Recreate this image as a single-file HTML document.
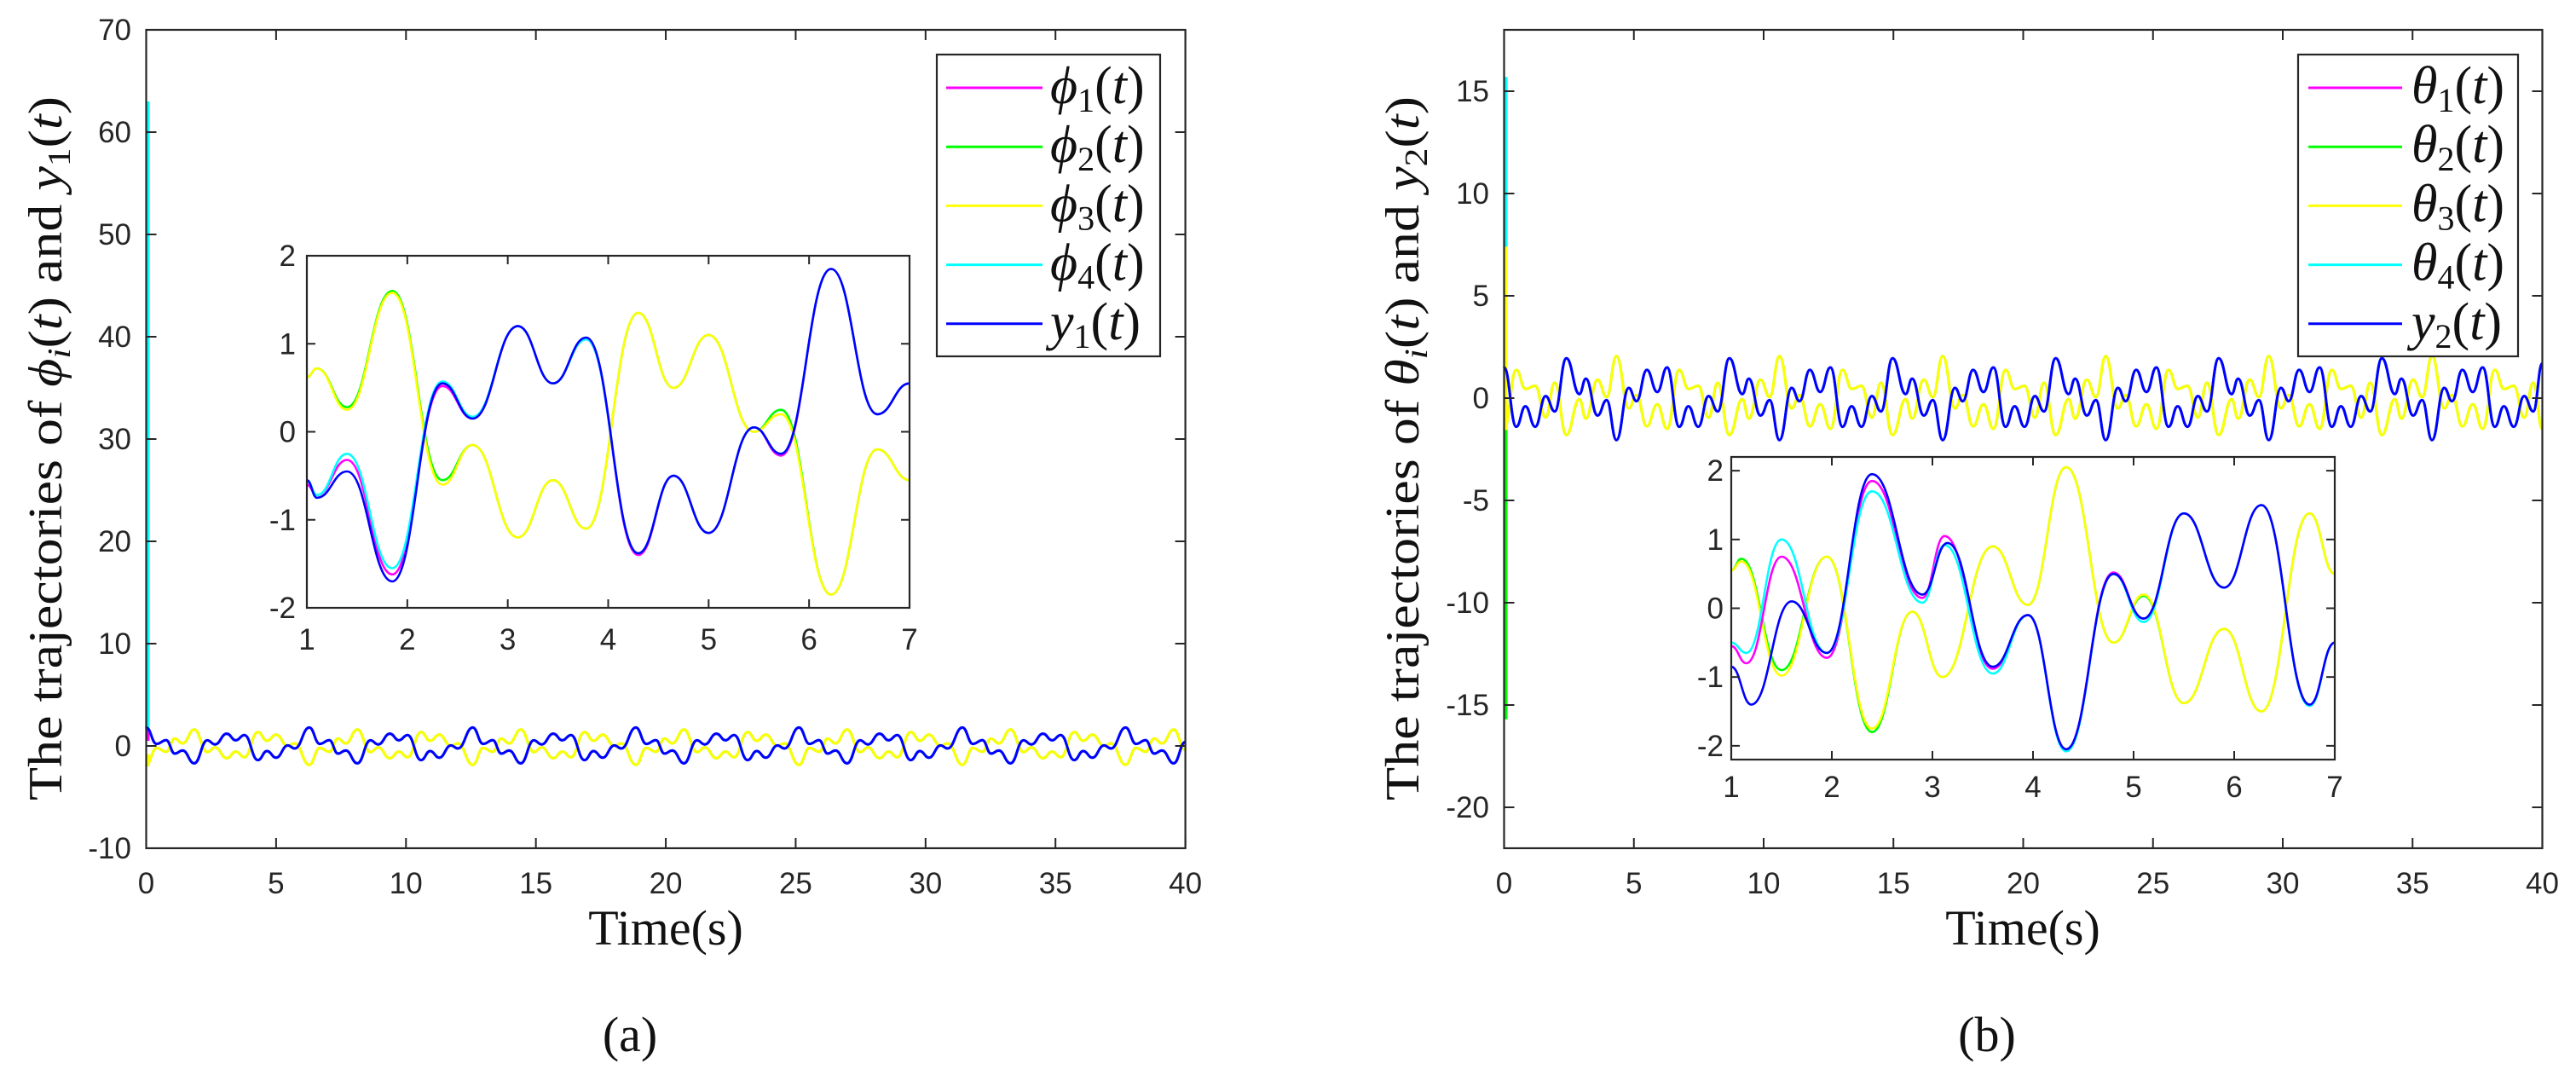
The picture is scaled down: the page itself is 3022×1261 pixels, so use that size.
<!DOCTYPE html>
<html><head><meta charset="utf-8">
<style>
html,body{margin:0;padding:0;background:#fff;}
svg{display:block;}
.tk{font-family:"Liberation Sans",sans-serif;font-size:35px;fill:#262626;}
.sf{font-family:"Liberation Serif","DejaVu Serif",serif;fill:#111;}
</style></head>
<body>
<svg id="root" width="3022" height="1261" viewBox="0 0 3022 1261" xmlns="http://www.w3.org/2000/svg">
<rect width="3022" height="1261" fill="#fff"/>
<g id="panelA"></g>
<g id="panelB"></g>
</svg>
<script>
// ---------- Panel (a) main-plot data ----------
const tA = [0,0.4,0.77,1.1,1.4,1.85,2.35,2.65,3.1,3.45,3.78,4.3,4.65,5.0,5.45,5.72,
6.28,6.68,7.05,7.38,7.68,8.13,8.63,8.93,9.38,9.73,10.06,10.58,10.93,11.28,11.73,12.0,
12.57,12.97,13.34,13.67,13.97,14.42,14.92,15.22,15.67,16.02,16.35,16.87,17.22,17.57,18.02,18.29,
18.85,19.25,19.62,19.95,20.25,20.7,21.2,21.5,21.95,22.3,22.63,23.15,23.5,23.85,24.3,24.57,
25.13,25.53,25.9,26.23,26.53,26.98,27.48,27.78,28.23,28.58,28.91,29.43,29.78,30.13,30.58,30.85,
31.42,31.82,32.19,32.52,32.82,33.27,33.77,34.07,34.52,34.87,35.2,35.72,36.07,36.42,36.87,37.14,
37.7,38.1,38.47,38.8,39.1,39.55,40];
const y1A = [1.8,0.2,0.57,-0.75,-0.45,-1.7,0.55,0.15,1.2,0.55,1.07,-1.38,-0.5,-1.15,0.05,-0.25,
1.8,0.2,0.57,-0.75,-0.45,-1.7,0.55,0.15,1.2,0.55,1.07,-1.38,-0.5,-1.15,0.05,-0.25,
1.8,0.2,0.57,-0.75,-0.45,-1.7,0.55,0.15,1.2,0.55,1.07,-1.38,-0.5,-1.15,0.05,-0.25,
1.8,0.2,0.57,-0.75,-0.45,-1.7,0.55,0.15,1.2,0.55,1.07,-1.38,-0.5,-1.15,0.05,-0.25,
1.8,0.2,0.57,-0.75,-0.45,-1.7,0.55,0.15,1.2,0.55,1.07,-1.38,-0.5,-1.15,0.05,-0.25,
1.8,0.2,0.57,-0.75,-0.45,-1.7,0.55,0.15,1.2,0.55,1.07,-1.38,-0.5,-1.15,0.05,-0.25,
1.8,0.2,0.57,-0.75,-0.45,-1.7,0.4];
const phi3A = [-1.85,-0.2,-0.57,0.72,0.25,1.6,-0.6,-0.15,-1.2,-0.55,-1.1,1.35,0.5,1.1,0.0,0.25,
-1.85,-0.2,-0.57,0.72,0.25,1.6,-0.6,-0.15,-1.2,-0.55,-1.1,1.35,0.5,1.1,0.0,0.25,
-1.85,-0.2,-0.57,0.72,0.25,1.6,-0.6,-0.15,-1.2,-0.55,-1.1,1.35,0.5,1.1,0.0,0.25,
-1.85,-0.2,-0.57,0.72,0.25,1.6,-0.6,-0.15,-1.2,-0.55,-1.1,1.35,0.5,1.1,0.0,0.25,
-1.85,-0.2,-0.57,0.72,0.25,1.6,-0.6,-0.15,-1.2,-0.55,-1.1,1.35,0.5,1.1,0.0,0.25,
-1.85,-0.2,-0.57,0.72,0.25,1.6,-0.6,-0.15,-1.2,-0.55,-1.1,1.35,0.5,1.1,0.0,0.25,
-1.85,-0.2,-0.57,0.72,0.25,1.6,-0.4];
const spikeA = [0.5, -1.0, -0.8, 63]; // phi1..phi4 initial values
// ---------- Panel (a) inset data ----------
const tInA = [1,1.1,1.4,1.85,2.35,2.65,3.1,3.45,3.78,4.3,4.65,5.0,5.45,5.72,6.22,6.68,7];
const y1In = [-0.55,-0.75,-0.45,-1.7,0.55,0.15,1.2,0.55,1.07,-1.38,-0.5,-1.15,0.05,-0.25,1.85,0.2,0.55];
const phi1In = [-0.6,-0.72,-0.32,-1.62,0.52,0.15,1.2,0.55,1.05,-1.4,-0.5,-1.15,0.05,-0.27,1.85,0.2,0.55];
const phi4In = [-0.55,-0.72,-0.25,-1.55,0.57,0.17,1.2,0.55,1.05,-1.38,-0.5,-1.15,0.05,-0.25,1.85,0.2,0.55];
const phi2In = [0.62,0.72,0.28,1.6,-0.55,-0.15,-1.2,-0.55,-1.1,1.35,0.5,1.1,0.0,0.25,-1.85,-0.2,-0.55];
const phi3In = [0.62,0.72,0.25,1.58,-0.6,-0.15,-1.2,-0.55,-1.1,1.35,0.5,1.1,0.0,0.2,-1.85,-0.2,-0.55];

// ---------- Panel (b) main-plot data ----------
const tB = [0,0.47,0.82,1.2,1.6,1.95,2.4,2.9,3.15,3.6,3.95,4.33,4.8,5.1,5.5,5.9,
6.28,6.75,7.1,7.48,7.88,8.23,8.68,9.18,9.43,9.88,10.23,10.61,11.08,11.38,11.78,12.18,
12.57,13.04,13.39,13.77,14.17,14.52,14.97,15.47,15.72,16.17,16.52,16.9,17.37,17.67,18.07,18.47,
18.85,19.32,19.67,20.05,20.45,20.8,21.25,21.75,22.0,22.45,22.8,23.18,23.65,23.95,24.35,24.75,
25.13,25.6,25.95,26.33,26.73,27.08,27.53,28.03,28.28,28.73,29.08,29.46,29.93,30.23,30.63,31.03,
31.42,31.89,32.24,32.62,33.02,33.37,33.82,34.32,34.57,35.02,35.37,35.75,36.22,36.52,36.92,37.32,
37.7,38.17,38.52,38.9,39.3,39.65,40];
const y2B = [1.5,-1.4,-0.4,-1.4,0.1,-0.65,1.95,0.2,0.95,-0.85,-0.1,-2.05,0.5,-0.15,1.38,0.3,
1.5,-1.4,-0.4,-1.4,0.1,-0.65,1.95,0.2,0.95,-0.85,-0.1,-2.05,0.5,-0.15,1.38,0.3,
1.5,-1.4,-0.4,-1.4,0.1,-0.65,1.95,0.2,0.95,-0.85,-0.1,-2.05,0.5,-0.15,1.38,0.3,
1.5,-1.4,-0.4,-1.4,0.1,-0.65,1.95,0.2,0.95,-0.85,-0.1,-2.05,0.5,-0.15,1.38,0.3,
1.5,-1.4,-0.4,-1.4,0.1,-0.65,1.95,0.2,0.95,-0.85,-0.1,-2.05,0.5,-0.15,1.38,0.3,
1.5,-1.4,-0.4,-1.4,0.1,-0.65,1.95,0.2,0.95,-0.85,-0.1,-2.05,0.5,-0.15,1.38,0.3,
1.5,-1.4,-0.4,-1.4,0.1,-0.65,1.7];
const th3B = [-1.5,1.38,0.45,0.6,-0.95,0.75,-1.8,-0.05,-1.0,0.9,0.05,2.05,-0.5,0.15,-1.38,-0.3,
-1.5,1.38,0.45,0.6,-0.95,0.75,-1.8,-0.05,-1.0,0.9,0.05,2.05,-0.5,0.15,-1.38,-0.3,
-1.5,1.38,0.45,0.6,-0.95,0.75,-1.8,-0.05,-1.0,0.9,0.05,2.05,-0.5,0.15,-1.38,-0.3,
-1.5,1.38,0.45,0.6,-0.95,0.75,-1.8,-0.05,-1.0,0.9,0.05,2.05,-0.5,0.15,-1.38,-0.3,
-1.5,1.38,0.45,0.6,-0.95,0.75,-1.8,-0.05,-1.0,0.9,0.05,2.05,-0.5,0.15,-1.38,-0.3,
-1.5,1.38,0.45,0.6,-0.95,0.75,-1.8,-0.05,-1.0,0.9,0.05,2.05,-0.5,0.15,-1.38,-0.3,
-1.5,1.38,0.45,0.6,-0.95,0.75,-1.5];
const spikeB = [-7.0, -15.7, 7.4, 15.7]; // theta1..theta4 initial values
// ---------- Panel (b) inset data ----------
const tInB1 = [1,1.15,1.5,1.95,2.4,2.9,3.12,3.6,3.95,4.33,4.8,5.1,5.5,5.9,6.27,6.75,7];
const th1In = [-0.55,-0.8,0.75,-0.72,1.85,0.15,1.05,-0.88,-0.1,-2.05,0.52,-0.15,1.38,0.3,1.5,-1.4,-0.5];
const th4In = [-0.5,-0.65,1.0,-0.65,1.7,0.08,0.92,-0.95,-0.1,-2.08,0.5,-0.2,1.38,0.3,1.5,-1.42,-0.5];
const tInB2 = [1,1.2,1.6,1.95,2.4,2.9,3.15,3.6,3.95,4.33,4.8,5.1,5.5,5.9,6.27,6.75,7];
const y2In = [-0.85,-1.4,0.1,-0.65,1.95,0.2,0.95,-0.85,-0.1,-2.05,0.5,-0.15,1.38,0.3,1.5,-1.4,-0.5];
const tInB3 = [1,1.1,1.5,1.95,2.4,2.8,3.1,3.6,3.95,4.33,4.8,5.1,5.5,5.9,6.27,6.75,7];
const th3In = [0.55,0.68,-0.98,0.75,-1.75,-0.05,-1.0,0.9,0.05,2.05,-0.5,0.2,-1.38,-0.3,-1.5,1.38,0.5];
const th2In = [0.55,0.72,-0.9,0.75,-1.8,-0.05,-1.0,0.9,0.05,2.05,-0.5,0.18,-1.38,-0.3,-1.5,1.38,0.5];

// tick labels
const mainXTicks = [0,5,10,15,20,25,30,35,40];
const yTicksA = [-10,0,10,20,30,40,50,60,70];
const yTicksB = [-20,-15,-10,-5,0,5,10,15];
const inXTicks = [1,2,3,4,5,6,7];
const inYTicksA = [-2,-1,0,1,2];
const inYTicksB = [-2,-1,0,1,2];

const NS = "http://www.w3.org/2000/svg";
const C = {m:"#ff00ff", g:"#00ff00", y:"#ffff00", c:"#00ffff", b:"#0000ff"};
function el(tag, attrs, parent){ const e=document.createElementNS(NS,tag); for(const k in attrs) e.setAttribute(k,attrs[k]); parent.appendChild(e); return e; }
function scale(d0,d1,r0,r1){ return v=> r0+(v-d0)/(d1-d0)*(r1-r0); }
function smoothPath(ts, vs, sx, sy, pre){
  let d = pre || "";
  for(let i=0;i<ts.length;i++){
    const x=sx(ts[i]), y=sy(vs[i]);
    if(i===0){ d += (pre? " L":"M")+x.toFixed(1)+" "+y.toFixed(1); }
    else { const px=sx(ts[i-1]), py=sy(vs[i-1]); const h=(x-px)/2.2;
      d += " C"+(px+h).toFixed(1)+" "+py.toFixed(1)+" "+(x-h).toFixed(1)+" "+y.toFixed(1)+" "+x.toFixed(1)+" "+y.toFixed(1); }
  }
  return d;
}
function axesBox(g, L,R,T,B, xt, yt, sx, sy, name, tickLen, xlabY, ylabX){
  const ax = el("g",{},g);
  
  
  el("rect",{x:L,y:T,width:R-L,height:B-T,fill:"none",stroke:"#262626","stroke-width":2.2},ax);
  xt.forEach(v=>{ const x=sx(v);
    el("line",{x1:x,y1:B,x2:x,y2:B-tickLen,stroke:"#262626","stroke-width":2},ax);
    el("line",{x1:x,y1:T,x2:x,y2:T+tickLen,stroke:"#262626","stroke-width":2},ax);
    const t=el("text",{x:x,y:xlabY,"text-anchor":"middle",class:"tk"},ax); t.textContent=v;
    
    
  });
  yt.forEach(v=>{ const y=sy(v);
    el("line",{x1:L,y1:y,x2:L+tickLen,y2:y,stroke:"#262626","stroke-width":2},ax);
    el("line",{x1:R,y1:y,x2:R-tickLen,y2:y,stroke:"#262626","stroke-width":2},ax);
    const t=el("text",{x:ylabX,y:y+12,"text-anchor":"end",class:"tk"},ax); t.textContent=v;
    
    
  });
}
function line(g, d, color, name, w){
  const p=el("path",{d:d,fill:"none",stroke:color,"stroke-width":w||2.6,"stroke-linejoin":"round"},g);
  
  
}
function legend(g, x0,y0,w,h, lx0,lx1, tx, rows, names){
  const lg=el("g",{},g);
  
  
  el("rect",{x:x0,y:y0,width:w,height:h,fill:"#fff",stroke:"#262626","stroke-width":2.2},lg);
  rows.forEach((r,i)=>{
    const y=103+i*69.2;
    const e=el("g",{},lg);
    
    
    el("line",{x1:lx0,y1:y,x2:lx1,y2:y,stroke:r[0],"stroke-width":3},e);
    const t=el("text",{x:tx,y:y+18,class:"sf","font-size":62},e);
    const a=el("tspan",{"font-style":"italic"},t); a.textContent=r[1];
    const s=el("tspan",{"font-size":40,dy:10},t); s.textContent=r[2];
    const p=el("tspan",{dy:-10},t); p.textContent="(";
    const q=el("tspan",{"font-style":"italic"},t); q.textContent="t";
    const u=el("tspan",{},t); u.textContent=")";
  });
}
function ylabel(g, x, cy, sym, ysub){
  const t=el("text",{transform:"translate("+x+","+cy+") rotate(-90)","text-anchor":"middle",class:"sf","font-size":56,textLength:826,lengthAdjust:"spacingAndGlyphs"},g);
  
  
  const parts=[["The trajectories of ",""],[sym,"i"],["i","s"],["(",""],["t","i"],[") and ",""],["y","i"],[ysub,"s"],["(",""],["t","i"],[")",""]];
  parts.forEach(p=>{ const s=el("tspan",{},t);
    if(p[1]==="i") s.setAttribute("font-style","italic");
    if(p[1]==="s"){ s.setAttribute("font-size","38"); s.setAttribute("dy","10"); s.setAttribute("font-style", p[0]==="i"?"italic":"normal"); }
    else if(s.previousSibling && s.previousSibling.getAttribute && s.previousSibling.getAttribute("dy")==="10") s.setAttribute("dy","-10");
    s.textContent=p[0]; });
}
function textAt(g, x,y,txt,size,name){
  const t=el("text",{x:x,y:y,"text-anchor":"middle",class:"sf","font-size":size},g); t.textContent=txt;
  
  
}

// ---------------- Panel A ----------------
(function(){
  const g=document.getElementById("panelA");
  const L=171.5,R=1390.6,T=35,B=995;
  const sx=scale(0,40,L,R), sy=scale(-10,70,B,T);
  const plot=el("g",{},g);
  
  
  const cols=[C.m,C.g,C.y,C.c];
  const base=[y1A,phi3A,phi3A,y1A];
  const nm=["phi1","phi2","phi3","phi4"];
  [0,1,3,2].forEach(i=>{
    const pre="M"+(sx(0)+2.5).toFixed(1)+" "+sy(spikeA[i]).toFixed(1)+" L"+(sx(0)+2.5).toFixed(1)+" "+sy(base[i][0]).toFixed(1);
    line(plot, smoothPath(tA, base[i], sx, sy, pre), cols[i], "series-"+nm[i], 3);
  });
  line(plot, smoothPath(tA, y1A, sx, sy), C.b, "series-y1", 3);
  axesBox(g,L,R,T,B,mainXTicks,yTicksA,sx,sy,"main-a",12,1048,154);
  legend(g,1099,64,262,354,1110,1223,1232,
    [[C.m,"ϕ","1"],[C.g,"ϕ","2"],[C.y,"ϕ","3"],[C.c,"ϕ","4"],[C.b,"y","1"]],["phi1","phi2","phi3","phi4","y1"]);
  const iL=360,iR=1067,iT=300,iB=713;
  const ix=scale(1,7,iL,iR), iy=scale(-2,2,iB,iT);
  const ins=el("g",{},g);
  
  
  el("rect",{x:iL,y:iT,width:iR-iL,height:iB-iT,fill:"#fff"},ins);
  line(ins, smoothPath(tInA, phi2In, ix, iy), C.g, "inset-phi2");
  line(ins, smoothPath(tInA, phi3In, ix, iy), C.y, "inset-phi3");
  line(ins, smoothPath(tInA, phi1In, ix, iy), C.m, "inset-phi1");
  line(ins, smoothPath(tInA, phi4In, ix, iy), C.c, "inset-phi4");
  line(ins, smoothPath(tInA, y1In, ix, iy), C.b, "inset-y1");
  axesBox(ins,iL,iR,iT,iB,inXTicks,inYTicksA,ix,iy,"inset-a",10,762,347);
  ylabel(g, 72, 526, "ϕ", "1");
  textAt(g, 781, 1108, "Time(s)", 58, "x-axis-title");
  textAt(g, 739, 1233, "(a)", 58, "caption-a");
})();

// ---------------- Panel B ----------------
(function(){
  const g=document.getElementById("panelB");
  const L=1764.5,R=2982.5,T=35,B=995;
  const sx=scale(0,40,L,R), sy=scale(-22,18,B,T);
  const plot=el("g",{},g);
  
  
  const cols=[C.m,C.g,C.y,C.c];
  const base=[y2B,th3B,th3B,y2B];
  const nm=["theta1","theta2","theta3","theta4"];
  [0,1,3,2].forEach(i=>{
    const pre="M"+(sx(0)+2.5).toFixed(1)+" "+sy(spikeB[i]).toFixed(1)+" L"+(sx(0)+2.5).toFixed(1)+" "+sy(base[i][0]).toFixed(1);
    line(plot, smoothPath(tB, base[i], sx, sy, pre), cols[i], "series-"+nm[i], 3);
  });
  line(plot, smoothPath(tB, y2B, sx, sy), C.b, "series-y2", 3);
  axesBox(g,L,R,T,B,mainXTicks,yTicksB,sx,sy,"main-b",12,1048,1747);
  legend(g,2696,64,258,354,2708,2818,2829,
    [[C.m,"θ","1"],[C.g,"θ","2"],[C.y,"θ","3"],[C.c,"θ","4"],[C.b,"y","2"]],["theta1","theta2","theta3","theta4","y2"]);
  const iL=2031,iR=2739,iT=536,iB=891;
  const ix=scale(1,7,iL,iR), iy=scale(-2.2,2.2,iB,iT);
  const ins=el("g",{},g);
  
  
  el("rect",{x:iL,y:iT,width:iR-iL,height:iB-iT,fill:"#fff"},ins);
  line(ins, smoothPath(tInB3, th2In, ix, iy), C.g, "inset-theta2");
  line(ins, smoothPath(tInB3, th3In, ix, iy), C.y, "inset-theta3");
  line(ins, smoothPath(tInB1, th1In, ix, iy), C.m, "inset-theta1");
  line(ins, smoothPath(tInB1, th4In, ix, iy), C.c, "inset-theta4");
  line(ins, smoothPath(tInB2, y2In, ix, iy), C.b, "inset-y2");
  axesBox(ins,iL,iR,iT,iB,inXTicks,inYTicksB,ix,iy,"inset-b",10,935,2022);
  ylabel(g, 1664, 526, "θ", "2");
  textAt(g, 2373, 1108, "Time(s)", 58, "x-axis-title-b");
  textAt(g, 2331, 1233, "(b)", 58, "caption-b");
})();
</script>
</body></html>
